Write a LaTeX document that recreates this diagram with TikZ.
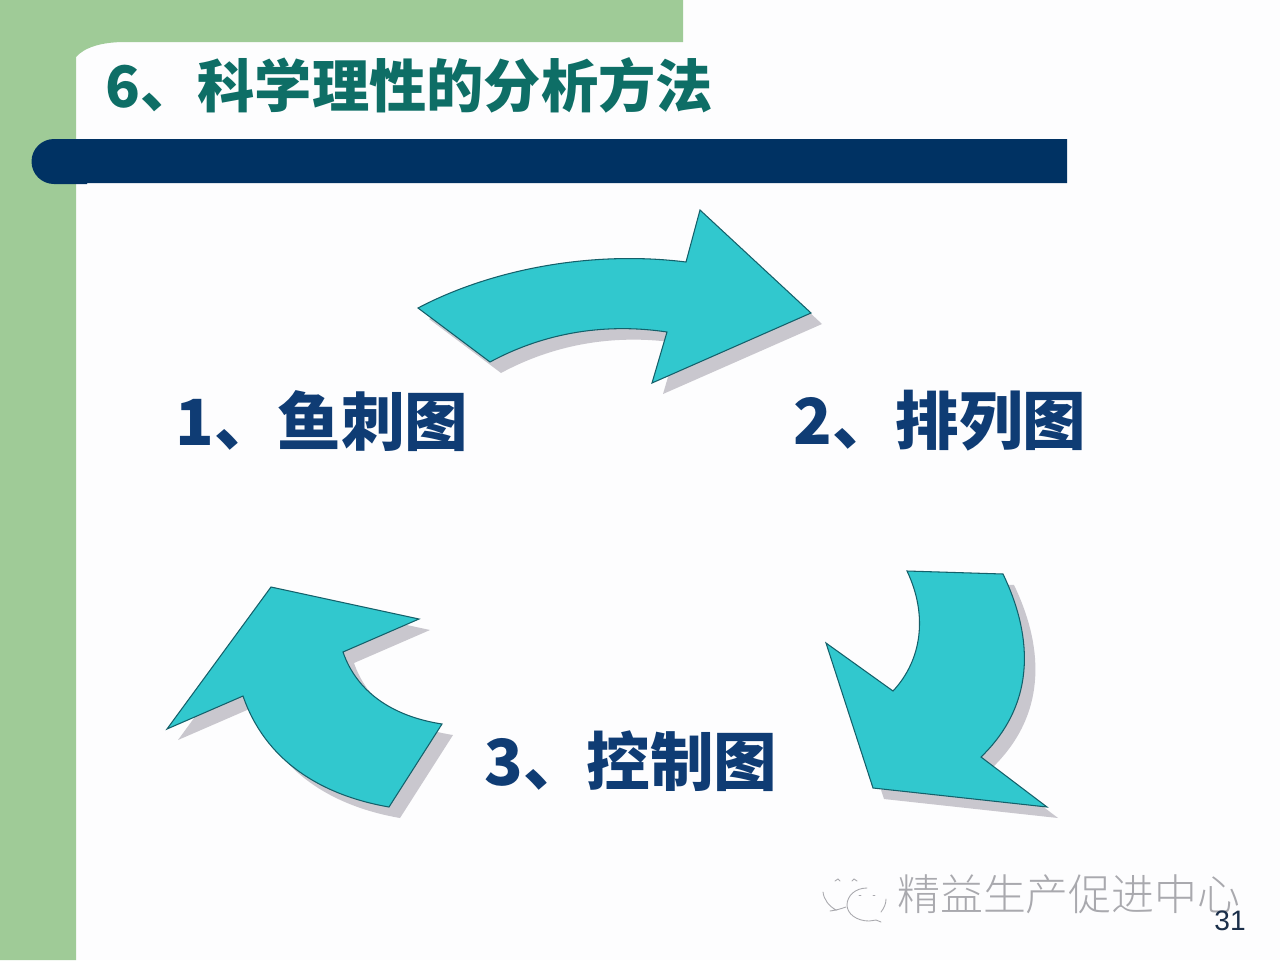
\documentclass[tikz,border=0pt]{standalone}
\usepackage{fontspec}
\usepackage{amsmath}
\newfontfamily\cjk{Noto Sans CJK SC}
\newfontfamily\thincjk{Noto Sans CJK SC Light}
\newfontfamily\latn{Liberation Sans}
\definecolor{pagewhite}{HTML}{FDFDFE}
\definecolor{sidegreen}{HTML}{9FCB97}
\definecolor{barnavy}{HTML}{003263}
\definecolor{arrowteal}{HTML}{31C8CE}
\definecolor{arrowedge}{HTML}{14606A}
\definecolor{shadegray}{HTML}{C9C7CE}
\definecolor{titleteal}{HTML}{0E6E66}
\definecolor{labelnavy}{HTML}{0F3C74}
\definecolor{markgray}{HTML}{A9A9AE}
\definecolor{pageink}{HTML}{1B2F4A}
\tikzset{
  bluearrow/.style={fill=arrowteal, draw=arrowedge, line width=0.6pt, line join=miter,
    preaction={fill=shadegray, draw=none, transform canvas={shift={(0.22cm,-0.22cm)}}}},
  titletext/.style={anchor=west, inner sep=0pt, text=titleteal, font=\cjk\bfseries\fontsize{32.6}{34}\selectfont},
  steptext/.style={anchor=west, inner sep=0pt, text=labelnavy, font=\cjk\bfseries\fontsize{36.2}{38}\selectfont},
  marktext/.style={anchor=west, inner sep=0pt, text=markgray, font=\thincjk\fontsize{24.4}{26}\selectfont},
  markline/.style={draw=markgray, line width=0.5pt, line cap=round}
}
\begin{document}
\begin{tikzpicture}[x=0.02cm,y=-0.02cm]
  \useasboundingbox (0,0) rectangle (1280,960);
  \fill[pagewhite] (0,0) rectangle (1280,960);
  % green frame
  \fill[sidegreen] (0,0) -- (683,0) -- (683,42) -- (125,42) .. controls (100,42) and (84,48) .. (76,57) -- (76,960) -- (0,960) -- cycle;
  % bar under the title
  \fill[barnavy] (54,139) -- (1067,139) -- (1067,183) -- (87,183) -- (87,184) -- (54,184) arc (90:270:22.5) -- cycle;
  \node[titletext] (title) at (105,85) {6、科学理性的分析方法};
  % arrows
  \path[bluearrow] (418,308) .. controls (490,270) and (590,250) .. (686,262) -- (700,210)
    -- (811,313) -- (652,383) -- (667,332) .. controls (600,322) and (540,335) .. (490,362) -- cycle;
  \path[bluearrow] (907,571) -- (1003,574) .. controls (1030,630) and (1040,700) .. (981,757)
    -- (1047,807) -- (873,788) -- (826,643) -- (893,691) .. controls (922,660) and (928,615) .. (907,571) -- cycle;
  \path[bluearrow] (271,587) -- (419,619) -- (343,652) .. controls (356,690) and (390,716) .. (442,724)
    -- (389,807) .. controls (320,795) and (265,760) .. (243,696) -- (167,729) -- cycle;
  \node[steptext] (fish) at (175,421) {1、鱼刺图};
  \node[steptext] (pareto) at (793,421) {2、排列图};
  \node[steptext] (control) at (484,761) {3、控制图};
  % mark in the corner
  \draw[markline] (823,892) .. controls (824,900) and (829,906) .. (836,910) -- (830,911);
  \draw[markline] (836,910) .. controls (840,909) and (843,908) .. (846,907);
  \draw[markline] (867,888) .. controls (855,888) and (847,896) .. (847,905) .. controls (847,914) and (857,921) .. (869,921) .. controls (872,921) and (874,920) .. (876,920) -- (881,922);
  \draw[markline] (881,912) .. controls (884,908) and (886,904) .. (886,899);
  \draw[markline] (835,881) -- (838,879) -- (840,881);
  \draw[markline] (852,881) -- (854,879) -- (857,881);
  \draw[markline] (859,895) -- (861,895);
  \draw[markline] (873,895) -- (875,895);
  \node[marktext] (mark) at (897,894) {精益生产促进中心};
  \node[anchor=center, inner sep=0pt, text=pageink, font=\latn\fontsize{16}{18}\selectfont] (page) at (1230,921) {31};
\end{tikzpicture}
\end{document}
